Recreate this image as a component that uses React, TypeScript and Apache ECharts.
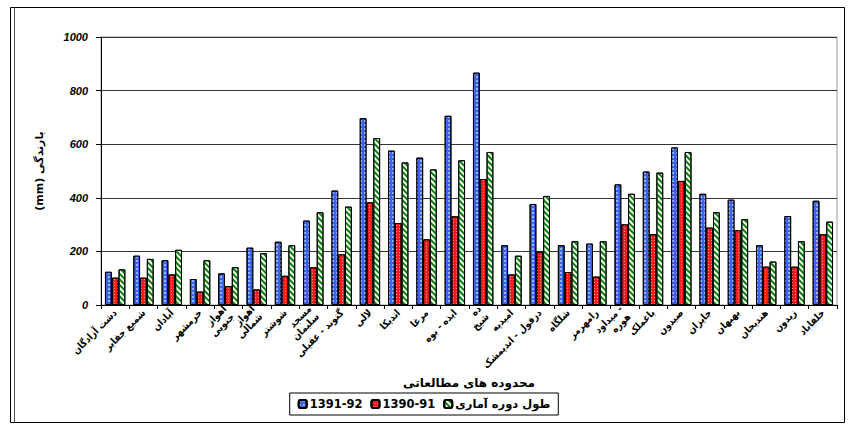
import React, { useEffect, useRef } from "react";
import * as echarts from "echarts";

const categories = [
  "دشت آزادگان",
  "شمیع جفایر",
  "آبادان",
  "خرمشهر",
  "اهواز\nجنوبی",
  "اهواز\nشمالی",
  "شوشتر",
  "مسجد\nسلیمان",
  "گتوند - عقیلی",
  "لالی",
  "اندیکا",
  "مرغا",
  "ایذه - بوه",
  "ده\nشیخ",
  "امیدیه",
  "دزفول - اندیمشک",
  "شلگاه",
  "رامهرمز",
  "میداود -\nهوره",
  "باغملک",
  "صیدون",
  "جایزان",
  "بهبهان",
  "هندیجان",
  "زیدون",
  "خلفاباد",
];

const series1391_92 = [124, 184, 167, 97, 118, 214, 236, 315, 427, 697, 576, 550, 706, 867, 223, 377, 223, 229, 450, 498, 588, 415, 393, 223, 332, 389];
const series1390_91 = [102, 102, 114, 50, 71, 58, 109, 141, 189, 383, 306, 245, 331, 470, 114, 199, 123, 106, 301, 264, 463, 289, 279, 143, 143, 264];
const seriesLongTerm = [133, 172, 206, 167, 141, 193, 223, 346, 367, 623, 532, 506, 540, 571, 184, 407, 238, 238, 415, 494, 571, 346, 320, 162, 238, 311];

const yTicks = [0, 200, 400, 600, 800, 1000];
const seriesNames = ["1391-92", "1390-91", "طول دوره آماری"];

export default function App() {
  const ref = useRef<HTMLDivElement>(null);
  useEffect(() => {
    if (!ref.current) return;
    const chart = echarts.init(ref.current, null, { renderer: "svg" });
    const arabicFont = "DejaVu Sans";
    const condensed = "'DejaVu Sans Condensed', 'DejaVu Sans'";
    chart.setOption({
      animation: false,
      backgroundColor: "#ffffff",
      aria: { enabled: false, decal: { show: true } },
      grid: {
        left: 101,
        right: 11,
        top: 37,
        bottom: 120,
        show: true,
        borderColor: "#9a9a9a",
        borderWidth: 1,
      },
      legend: {
        data: [seriesNames[0], seriesNames[1], seriesNames[2]],
        left: "center",
        top: 393,
        align: "left",
        orient: "horizontal",
        borderColor: "#000",
        borderWidth: 1,
        padding: [5, 8, 5, 8],
        itemGap: 8,
        itemWidth: 8,
        itemHeight: 8,
        textStyle: { fontFamily: arabicFont, fontWeight: "bold", fontSize: 11.5, color: "#000", padding: [0, 0, 0, -2] },
      },
      xAxis: {
        type: "category",
        data: categories,
        boundaryGap: true,
        name: "محدوده های مطالعاتی",
        nameLocation: "middle",
        nameGap: 66,
        nameTextStyle: { fontFamily: arabicFont, fontWeight: "bold", fontSize: 12, color: "#000" },
        axisLine: { lineStyle: { color: "#000", width: 1 } },
        axisTick: { show: true, length: 4, lineStyle: { color: "#000" } },
        axisLabel: {
          interval: 0,
          rotate: 45,
          margin: 6,
          fontFamily: condensed,
          fontWeight: "bold",
          fontSize: 10,
          lineHeight: 11,
          color: "#000",
        },
      },
      yAxis: {
        type: "value",
        min: 0,
        max: 1000,
        interval: 200,
        name: "(mm) بارندگی",
        nameLocation: "middle",
        nameRotate: 90,
        nameGap: 56,
        nameTextStyle: { fontFamily: arabicFont, fontWeight: "bold", fontSize: 11, color: "#000" },
        axisLine: { show: true, lineStyle: { color: "#000", width: 1 } },
        axisTick: { show: true, inside: false, length: 5, lineStyle: { color: "#000" } },
        axisLabel: {
          margin: 13,
          fontFamily: "Liberation Sans",
          fontWeight: "bold",
          fontStyle: "italic",
          fontSize: 11,
          color: "#000",
          formatter: (v: number) => (yTicks.includes(v) ? String(v) : ""),
        },
        splitLine: { show: true, lineStyle: { color: "#333", width: 1 } },
      },
      series: [
        {
          name: seriesNames[0],
          type: "bar",
          data: series1391_92,
          barGap: "0%",
          barCategoryGap: "28%",
          itemStyle: {
            color: "#3a63f0",
            borderColor: "#000",
            borderWidth: 1,
            decal: {
              symbol: "circle",
              symbolSize: 0.8,
              color: "rgba(255,255,255,0.75)",
              dashArrayX: [2, 2],
              dashArrayY: [2, 2],
              rotation: 0,
            },
          },
        },
        {
          name: seriesNames[1],
          type: "bar",
          data: series1390_91,
          barGap: "0%",
          barCategoryGap: "28%",
          itemStyle: {
            color: "#ff1a1a",
            borderColor: "#000",
            borderWidth: 1,
            decal: {
              symbol: "rect",
              symbolSize: 1,
              color: "rgba(255,255,255,0.55)",
              dashArrayX: [1, 2],
              dashArrayY: [1, 2],
              rotation: 0,
            },
          },
        },
        {
          name: seriesNames[2],
          type: "bar",
          data: seriesLongTerm,
          barGap: "0%",
          barCategoryGap: "28%",
          itemStyle: {
            color: "#ffffff",
            borderColor: "#000",
            borderWidth: 1,
            decal: {
              symbol: "rect",
              symbolSize: 1,
              color: "#008000",
              dashArrayX: [1, 0],
              dashArrayY: [2, 2],
              rotation: Math.PI / 4,
            },
          },
        },
      ],
      graphic: [
        {
          type: "rect",
          silent: true,
          shape: { x: 10.5, y: 7.5, width: 834, height: 415 },
          style: { fill: "none", stroke: "#000", lineWidth: 1 },
        },
        {
          type: "line",
          silent: true,
          shape: { x1: 14.5, y1: 7.5, x2: 14.5, y2: 422.5 },
          style: { stroke: "#555", lineWidth: 1 },
        },
      ],
    });
    return () => chart.dispose();
  }, []);
  return (
    <div
      ref={ref}
      style={{ position: "fixed", left: 0, top: 0, width: 848, height: 425 }}
    />
  );
}
